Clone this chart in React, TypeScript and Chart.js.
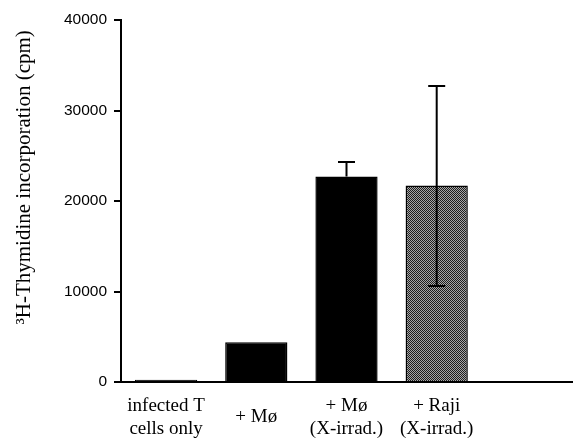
import React, { useEffect, useRef } from "react";
import { Chart, registerables } from "chart.js";

Chart.register(...registerables);

const categories: (string | string[])[] = [
  ["infected T", "cells only"],
  "+ Mø",
  ["+ Mø", "(X-irrad.)"],
  ["+ Raji", "(X-irrad.)"],
  "",
];
const values: (number | null)[] = [250, 4400, 22700, 21700, null];
const errUpper: (number | null)[] = [null, null, 24300, 32700, null];
const errLower: (number | null)[] = [null, null, null, 10600, null];
const yTicks = [0, 10000, 20000, 30000, 40000];
const yTitle = "         ³H-Thymidine incorporation (cpm)";

function makePattern(): CanvasPattern | string {
  const c = document.createElement("canvas");
  c.width = 2;
  c.height = 2;
  const g = c.getContext("2d");
  if (!g) return "#777";
  g.fillStyle = "#a8a8a8";
  g.fillRect(0, 0, 2, 2);
  g.fillStyle = "#1e1e1e";
  g.fillRect(0, 0, 1, 1);
  g.fillRect(1, 1, 1, 1);
  return g.createPattern(c, "repeat") || "#777";
}

const errorBarPlugin = {
  id: "errorBars",
  afterDatasetsDraw(chart: any) {
    const meta = chart.getDatasetMeta(0);
    const y = chart.scales.y;
    const ctx = chart.ctx;
    ctx.save();
    ctx.strokeStyle = "#000";
    ctx.lineWidth = 2;
    meta.data.forEach((bar: any, i: number) => {
      const v = values[i];
      if (v == null) return;
      const x = bar.x;
      const capW = 8.5;
      const up = errUpper[i];
      const lo = errLower[i];
      if (up == null && lo == null) return;
      const yv = y.getPixelForValue(v);
      const yTop = up != null ? y.getPixelForValue(up) : yv;
      const yBot = lo != null ? y.getPixelForValue(lo) : yv;
      ctx.beginPath();
      ctx.moveTo(x, yTop);
      ctx.lineTo(x, yBot);
      if (up != null) {
        ctx.moveTo(x - capW, yTop);
        ctx.lineTo(x + capW, yTop);
      }
      if (lo != null) {
        ctx.moveTo(x - capW, yBot);
        ctx.lineTo(x + capW, yBot);
      }
      ctx.stroke();
    });
    ctx.restore();
  },
};

export default function App() {
  const ref = useRef<HTMLCanvasElement | null>(null);
  useEffect(() => {
    document.body.style.margin = "0";
    if (!ref.current) return;
    const pattern = makePattern();
    const colors = values.map((_, i) => (i === 3 ? pattern : "#000"));
    const chart = new Chart(ref.current, {
      type: "bar",
      data: {
        labels: categories,
        datasets: [
          {
            data: values,
            backgroundColor: colors as any,
            borderColor: "#000",
            borderWidth: 1.5,
            barPercentage: 0.69,
            categoryPercentage: 1,
          },
        ],
      },
      plugins: [errorBarPlugin],
      options: {
        animation: false,
        responsive: false,
        maintainAspectRatio: false,
        layout: { padding: { left: 0, right: 4, top: 20, bottom: 0 } },
        plugins: { legend: { display: false }, tooltip: { enabled: false } },
        scales: {
          x: {
            grid: { display: false },
            border: { display: true, color: "#000", width: 2 },
            ticks: {
              color: "#000",
              font: { family: "Liberation Serif", size: 19 },
              padding: 16,
              maxRotation: 0,
              autoSkip: false,
              crossAlign: "center",
            },
            afterFit: (s: any) => {
              s.height = 58;
            },
          },
          y: {
            min: 0,
            max: 40000,
            afterBuildTicks: (s: any) => {
              s.ticks = yTicks.map((v) => ({ value: v }));
            },
            grid: {
              display: true,
              drawOnChartArea: false,
              drawTicks: true,
              tickLength: 7,
              color: "#000",
              lineWidth: 2,
            },
            border: { display: true, color: "#000", width: 2 },
            ticks: {
              color: "#000",
              font: { family: "Liberation Sans", size: 15.5 },
              padding: 7,
              callback: (v: any) => String(v),
            },
            title: {
              display: true,
              text: yTitle,
              color: "#000",
              font: { family: "Liberation Serif", size: 21 },
              padding: { top: 12, bottom: 0 },
            },
            afterFit: (s: any) => {
              s.width = 121;
            },
          },
        },
      },
    });
    return () => chart.destroy();
  }, []);
  return (
    <div style={{ width: 576, height: 440 }}>
      <canvas ref={ref} width={576} height={440} style={{ display: "block" }} />
    </div>
  );
}
